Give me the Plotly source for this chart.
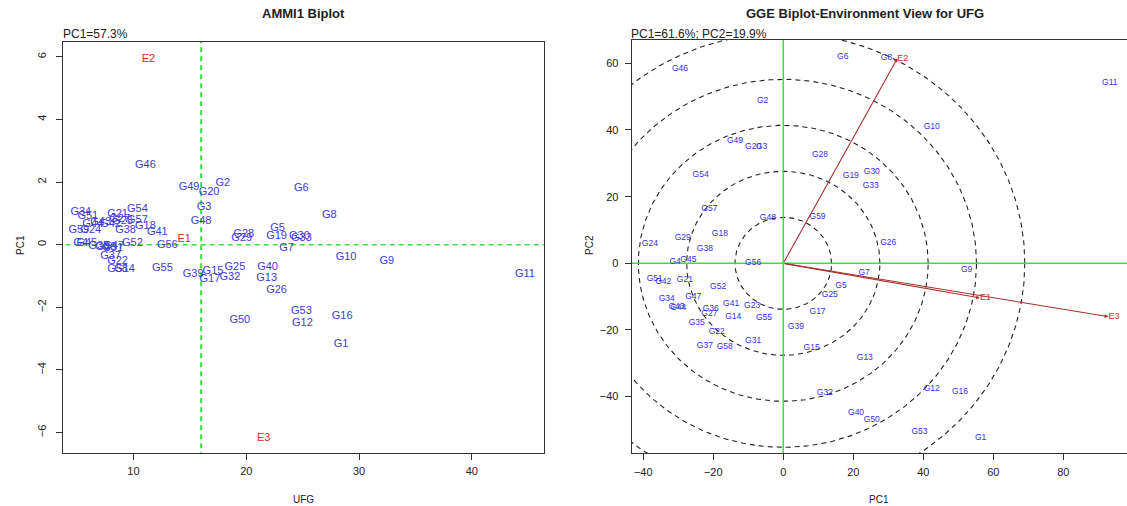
import numpy as np
import plotly.graph_objects as go

# ---------------- data ----------------
genotypes = ["G%d" % i for i in range(1, 60)]

# AMMI1 biplot: genotype mean (UFG) and PC1 score
ammi_ufg = [28.41, 17.93, 16.26, 5.33, 22.78, 24.89, 23.57, 27.36, 32.47, 28.85,
            44.71, 24.98, 21.81, 9.21, 17.05, 28.50, 16.78, 11.06, 22.69, 16.70,
            8.59, 8.59, 9.03, 6.21, 18.99, 22.69, 8.77, 19.78, 19.60, 24.71,
            8.15, 18.55, 24.89, 5.33, 6.92, 7.53, 7.97, 9.30, 15.29, 21.89,
            12.11, 7.97, 7.09, 6.39, 5.86, 11.06, 8.24, 15.99, 14.93, 19.43,
            5.95, 9.91, 24.89, 10.35, 12.56, 13.00, 10.35, 8.59, 5.15]
ammi_pc1 = [-3.17, 1.96, 1.20, 0.05, 0.53, 1.80, -0.11, 0.94, -0.52, -0.40,
            -0.94, -2.50, -1.07, -0.78, -0.84, -2.27, -1.10, 0.59, 0.27, 1.68,
            0.98, -0.52, 0.75, 0.47, -0.71, -1.45, 0.82, 0.34, 0.21, 0.27,
            -0.11, -1.03, 0.21, 1.04, -0.04, -0.08, -0.36, 0.47, -0.94, -0.71,
            0.40, 0.66, 0.72, 0.66, 0.05, 2.54, -0.04, 0.75, 1.84, -2.40,
            0.91, 0.05, -2.12, 1.14, -0.75, -0.01, 0.78, -0.78, 0.47]

environments = ["E1", "E2", "E3"]
ammi_env_ufg = [14.49, 11.32, 21.54]
ammi_env_pc1 = [0.18, 5.92, -6.17]
grand_mean = 16.0

# GGE biplot: PC1 / PC2 scores
gge_pc1 = [56.4, -5.9, -6.2, -30.9, 16.5, 17.0, 23.1, 29.5, 52.4, 42.4,
           93.3, 42.4, 23.3, -14.3, 8.1, 50.5, 9.8, -18.1, 19.3, -8.6,
           -28.1, -19.0, -8.9, -38.1, 13.3, 30.0, -21.1, 10.5, -28.7, 25.3,
           -8.6, 11.9, 25.0, -33.3, -24.7, -20.7, -22.4, -22.4, 3.6, 20.8,
           -14.9, -34.3, -30.5, -30.0, -27.1, -29.5, -25.7, -4.4, -13.8, 25.3,
           -36.7, -18.6, 38.9, -23.6, -5.5, -8.6, -21.1, -16.7, 9.8]
gge_pc2 = [-52.5, 48.8, 34.8, 0.5, -6.8, 62.0, -3.0, 61.5, -2.0, 40.8,
           54.0, -37.8, -28.5, -16.2, -25.5, -38.5, -14.5, 8.8, 26.3, 34.8,
           -5.0, -20.5, -12.8, 5.8, -9.5, 6.2, -15.3, 32.5, 7.7, 27.5,
           -23.2, -38.8, 23.1, -10.8, -18.0, -13.7, -24.8, 4.3, -19.2, -44.8,
           -12.2, -5.5, -13.2, -13.4, 1.0, 58.3, -10.2, 13.5, 36.8, -47.0,
           -4.8, -7.2, -50.5, 26.5, -16.5, 0.2, 16.3, -25.2, 13.9]
gge_env_pc1 = [56.2, 32.6, 92.9]
gge_env_pc2 = [-10.4, 61.5, -16.0]
circle_radii = [13.8, 27.6, 41.4, 55.2, 69.0]

# ---------------- style ----------------
W, H = 1127, 506
FONT = "Liberation Sans, Arial, sans-serif"
BLUE_L = "#3B3BD6"
BLUE_R = "#3030E8"
RED = "#E02828"
GREEN = "#3CE03C"
ARROW = "#A8302C"
AX = "#333333"


def px_dom(a, b, total):
    return [a / total, b / total]


fig = go.Figure()

# ---- left: AMMI1 ----
fig.add_trace(go.Scatter(x=[grand_mean, grand_mean], y=[-20, 20], mode="lines",
                         line=dict(color=GREEN, width=2, dash="5px,4px"),
                         xaxis="x", yaxis="y", hoverinfo="skip", showlegend=False))
fig.add_trace(go.Scatter(x=[0, 60], y=[0, 0], mode="lines",
                         line=dict(color=GREEN, width=1.5, dash="5px,4px"),
                         xaxis="x", yaxis="y", hoverinfo="skip", showlegend=False))
fig.add_trace(go.Scatter(x=ammi_ufg, y=ammi_pc1, mode="text", text=genotypes,
                         textfont=dict(family=FONT, size=11, color=BLUE_L),
                         xaxis="x", yaxis="y", showlegend=False, cliponaxis=True))
fig.add_trace(go.Scatter(x=ammi_env_ufg, y=ammi_env_pc1, mode="text", text=environments,
                         textfont=dict(family=FONT, size=11, color=RED),
                         xaxis="x", yaxis="y", showlegend=False))

# ---- right: GGE ----
theta = np.linspace(0, 2 * np.pi, 400)
for r in circle_radii:
    fig.add_trace(go.Scatter(x=r * np.cos(theta), y=r * np.sin(theta), mode="lines",
                             line=dict(color="#222222", width=1.1, dash="5px,4px"),
                             xaxis="x2", yaxis="y2", hoverinfo="skip", showlegend=False))
fig.add_trace(go.Scatter(x=[0, 0], y=[-100, 100], mode="lines",
                         line=dict(color=GREEN, width=1.5),
                         xaxis="x2", yaxis="y2", hoverinfo="skip", showlegend=False))
fig.add_trace(go.Scatter(x=[-100, 150], y=[0, 0], mode="lines",
                         line=dict(color=GREEN, width=1.5),
                         xaxis="x2", yaxis="y2", hoverinfo="skip", showlegend=False))
fig.add_trace(go.Scatter(x=gge_pc1, y=gge_pc2, mode="text", text=genotypes,
                         textfont=dict(family=FONT, size=8.5, color=BLUE_R),
                         xaxis="x2", yaxis="y2", showlegend=False))
fig.add_trace(go.Scatter(x=gge_env_pc1, y=gge_env_pc2, mode="text", text=environments,
                         textfont=dict(family=FONT, size=9, color=RED),
                         textposition="middle right",
                         xaxis="x2", yaxis="y2", showlegend=False))

annotations = []
for ex, ey in zip(gge_env_pc1, gge_env_pc2):
    annotations.append(dict(x=ex, y=ey, ax=0, ay=0, xref="x2", yref="y2",
                            axref="x2", ayref="y2", text="", showarrow=True,
                            arrowhead=2, arrowsize=0.7, arrowwidth=1.1,
                            arrowcolor=ARROW))

# titles / labels
def ann(text, x, y, size=11, bold=False, xanchor="center", angle=0, color="#222"):
    t = "<b>%s</b>" % text if bold else text
    annotations.append(dict(text=t, x=x / W, y=1 - y / H, xref="paper", yref="paper",
                            showarrow=False, xanchor=xanchor, yanchor="middle",
                            textangle=angle,
                            font=dict(family=FONT, size=size, color=color)))

ann("AMMI1 Biplot", 303, 14, size=13, bold=True)
ann("GGE Biplot-Environment View for UFG", 865, 14, size=13, bold=True)
ann("PC1=57.3%", 61, 34, size=12, xanchor="left")
ann("PC1=61.6%; PC2=19.9%", 629, 34, size=12, xanchor="left")
ann("UFG", 303, 499, size=10)
ann("PC1", 879, 499, size=10)
ann("PC1", 20, 245, size=10, angle=-90)
ann("PC2", 589, 245, size=10, angle=-90)

axis_common = dict(showgrid=False, zeroline=False, showline=True, linecolor=AX,
                   linewidth=1.2, ticks="outside", ticklen=6, tickcolor=AX,
                   tickfont=dict(family=FONT, size=11, color="#222"))

fig.update_layout(
    width=W, height=H, autosize=False,
    margin=dict(l=0, r=0, t=0, b=0),
    paper_bgcolor="white", plot_bgcolor="white",
    showlegend=False,
    xaxis=dict(domain=px_dom(63, 544, W), range=[3.75, 46.4], anchor="y",
               tickvals=[10, 20, 30, 40], mirror=True, ticklabelstandoff=2,
               **axis_common),
    yaxis=dict(domain=[1 - 453 / H, 1 - 41.7 / H], range=[-6.65, 6.48], anchor="x",
               tickvals=[-6, -4, -2, 0, 2, 4, 6], tickangle=-90, mirror=True,
               ticklabelstandoff=6, **axis_common),
    xaxis2=dict(domain=px_dom(631.7, W, W), range=[-43.3, 98.2], anchor="y2",
                tickvals=[-40, -20, 0, 20, 40, 60, 80], mirror=True,
                ticklabelstandoff=2, **axis_common),
    yaxis2=dict(domain=[1 - 453.3 / H, 1 - 40 / H], range=[-57, 67], anchor="x2",
                tickvals=[-40, -20, 0, 20, 40, 60], mirror=False,
                ticklabelstandoff=4, **axis_common),
    annotations=annotations,
)

fig.write_html("out.html", config={"displayModeBar": False, "responsive": False},
               post_script="document.body.style.margin='0px';document.body.style.overflow='hidden';")
